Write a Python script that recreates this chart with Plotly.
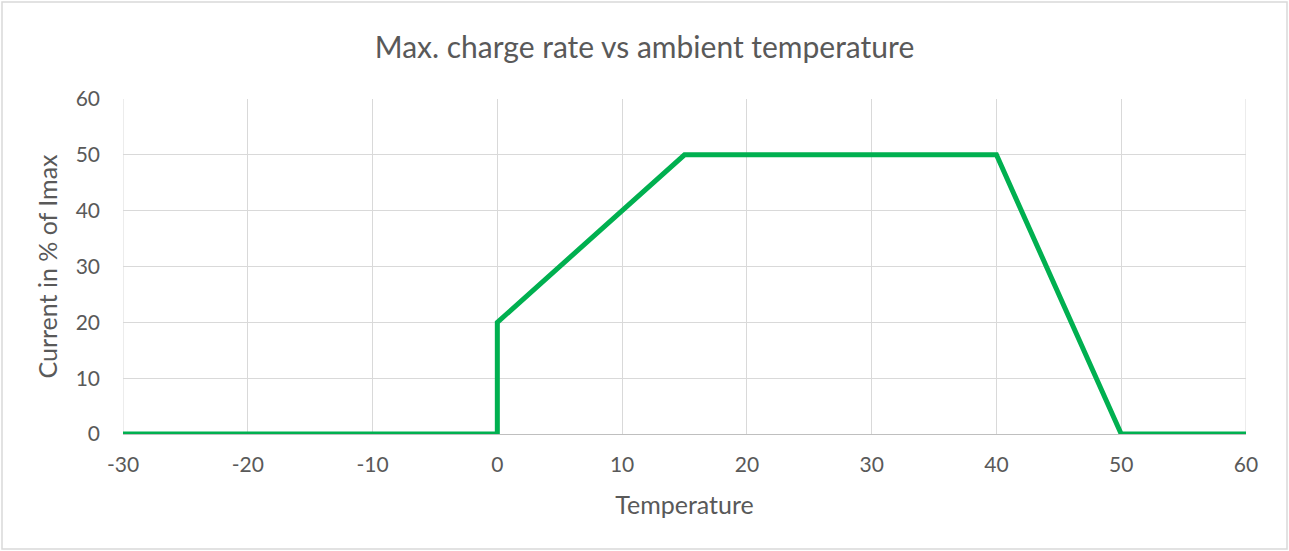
import plotly.graph_objects as go

# ── Data ──────────────────────────────────────────────────────────────────────
temperature = [-30, 0, 0, 15, 40, 50, 60]
current_pct = [0, 0, 20, 50, 50, 0, 0]

x_ticks = [-30, -20, -10, 0, 10, 20, 30, 40, 50, 60]
x_labels = [str(v) for v in x_ticks]   # plain hyphen, like Excel
y_ticks = [0, 10, 20, 30, 40, 50, 60]

# ── Style ─────────────────────────────────────────────────────────────────────
GREEN = "#00B050"
TEXT  = "#595959"
GRID  = "#D9D9D9"
FONT  = "Lato, Open Sans, sans-serif"

W, H = 1289, 551
L, R, T, B = 123, 43, 99, 117
pw, ph = W - L - R, H - T - B

fig = go.Figure(go.Scatter(
    x=temperature, y=current_pct,
    mode="lines",
    line=dict(color=GREEN, width=5),
    hoverinfo="x+y",
))

fig.update_layout(
    width=W, height=H,
    paper_bgcolor="white", plot_bgcolor="white",
    margin=dict(l=L, r=R, t=T, b=B),
    font=dict(family=FONT, color=TEXT, size=20),
    showlegend=False,
    title=dict(text="Max. charge rate vs ambient temperature",
               font=dict(size=30, color=TEXT, family=FONT),
               x=0.5, xanchor="center", y=1 - 47 / H, yanchor="middle"),
    xaxis=dict(range=[-30, 60], tickvals=x_ticks, ticktext=x_labels,
               showgrid=True, gridcolor=GRID, gridwidth=1, zeroline=False,
               showline=True, linecolor="#BFBFBF", linewidth=1,
               ticks="", ticklabelstandoff=12,
               tickfont=dict(size=21, color=TEXT),
               title=dict(text="Temperature", font=dict(size=25, color=TEXT),
                          standoff=21)),
    yaxis=dict(range=[0, 60], tickvals=y_ticks, showgrid=True,
               gridcolor=GRID, gridwidth=1, zeroline=False,
               showline=False, ticks="", ticklabelstandoff=22,
               tickfont=dict(size=21, color=TEXT),
               title=dict(text="Current in % of Imax",
                          font=dict(size=25, color=TEXT), standoff=10)),
)

# left / right edge gridlines of plot area
fig.add_shape(type="line", xref="x", yref="paper", x0=-30, x1=-30, y0=0, y1=1,
              line=dict(color=GRID, width=1), layer="below")
fig.add_shape(type="line", xref="x", yref="paper", x0=60, x1=60, y0=0, y1=1,
              line=dict(color=GRID, width=1), layer="below")

# chart-area frame
fig.add_shape(type="rect", xref="paper", yref="paper",
              x0=(2 - L) / pw, x1=(W - 2 - L) / pw,
              y0=-(H - 2 - T - ph) / ph, y1=1 + (T - 2) / ph,
              line=dict(color="#D9D9D9", width=1.5))

# page has a default 8px body margin; drop it so the figure sits at 0,0
fig.write_html("out.html", config={"displayModeBar": False},
               post_script="document.body.style.margin='0';")
